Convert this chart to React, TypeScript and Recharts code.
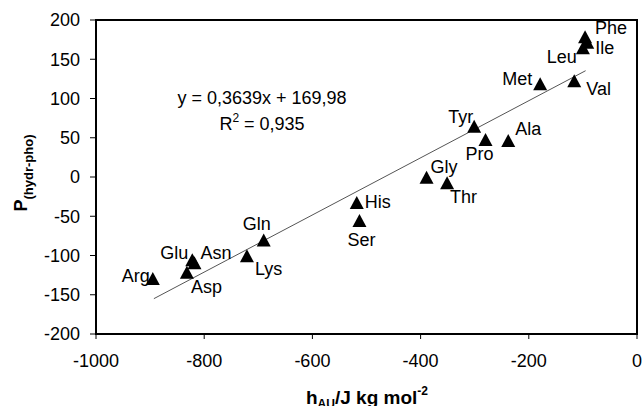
import React from "react";
import { ScatterChart, Scatter, XAxis, YAxis, ReferenceLine, ReferenceArea } from "recharts";

document.body.style.margin = "0";

const aminoAcids = ["Arg", "Asp", "Glu", "Asn", "Lys", "Gln", "His", "Ser", "Gly", "Thr", "Tyr", "Pro", "Ala", "Met", "Val", "Leu", "Ile", "Phe"];
const hAU = [-895, -832, -822, -818, -721, -690, -518, -513, -389, -351, -301, -280, -238, -179, -116, -100, -92, -96];
const pHydrPho = [-130, -122, -106, -110, -101, -81, -33, -56, -1, -8, 64, 47, 46, 118, 122, 164, 171, 178];

const xTicks = [-1000, -800, -600, -400, -200, 0];
const yTicks = [-200, -150, -100, -50, 0, 50, 100, 150, 200];

// trendline from the equation printed on the chart
const slope = 0.3639;
const intercept = 169.98;
const trendStart = -893;
const trendEnd = -95;

// where each label sits relative to its marker (px, baseline)
const labelPos: Record<string, [number, number, "start" | "middle" | "end"]> = {
  Arg: [-3, 3, "end"],
  Asp: [4, 20, "start"],
  Glu: [-4, -1, "end"],
  Asn: [6, -4, "start"],
  Lys: [8, 19, "start"],
  Gln: [-7, -11, "middle"],
  His: [8, 5, "start"],
  Ser: [2, 25, "middle"],
  Gly: [4, -5, "start"],
  Thr: [3, 20, "start"],
  Tyr: [-1, -4, "end"],
  Pro: [-6, 20, "middle"],
  Ala: [7, -6, "start"],
  Met: [-8, 1, "end"],
  Val: [12, 14, "start"],
  Leu: [-6, 15, "end"],
  Ile: [8, 11, "start"],
  Phe: [10, -3, "start"],
};

const data = aminoAcids.map((name, i) => ({ name, h: hAU[i], p: pHydrPho[i] }));
const trend = [
  { x: trendStart, y: slope * trendStart + intercept },
  { x: trendEnd, y: slope * trendEnd + intercept },
];

const font = "'Liberation Sans', Arial, sans-serif";

const Marker = (props: any) => {
  const { cx, cy, payload } = props;
  const [dx, dy, anchor] = labelPos[payload.name] || [8, 0, "start"];
  return (
    <g>
      <path d={`M${cx},${cy - 7} L${cx + 7},${cy + 6} L${cx - 7},${cy + 6} Z`} fill="#000" />
      <text x={cx + dx} y={cy + dy} textAnchor={anchor} fontSize={18} fontFamily={font} fill="#000">
        {payload.name}
      </text>
    </g>
  );
};

export default function App() {
  return (
    <div style={{ width: 642, height: 406 }}>
      <ScatterChart width={642} height={406} margin={{ top: 20, right: 5, bottom: 0, left: 0 }}>
        <XAxis
          type="number"
          dataKey="h"
          domain={[-1000, 0]}
          ticks={xTicks}
          interval={0}
          height={72}
          tickSize={5}
          tickMargin={15}
          axisLine={{ stroke: "#000", strokeWidth: 2 }}
          tickLine={{ stroke: "#000" }}
          tick={{ fill: "#000", fontSize: 18, fontFamily: font }}
        />
        <YAxis
          type="number"
          dataKey="p"
          domain={[-200, 200]}
          ticks={yTicks}
          interval={0}
          width={96}
          tickSize={6}
          tickMargin={10}
          axisLine={{ stroke: "#000", strokeWidth: 2 }}
          tickLine={{ stroke: "#000" }}
          tick={{ fill: "#000", fontSize: 18, fontFamily: font }}
        />
        <ReferenceArea x1={-1000} x2={0} y1={-200} y2={200} fill="none" stroke="#000" strokeWidth={2} ifOverflow="visible" />
        <ReferenceLine segment={trend} stroke="#555" strokeWidth={1} />
        <Scatter data={data} shape={<Marker />} isAnimationActive={false} />
        <text x={262} y={104} textAnchor="middle" fontSize={18} fontFamily={font} fill="#000">
          y = 0,3639x + 169,98
        </text>
        <text x={262} y={130} textAnchor="middle" fontSize={18} fontFamily={font} fill="#000">
          R<tspan fontSize={12} dy={-8}>2</tspan>
          <tspan dy={8}> = 0,935</tspan>
        </text>
        <text
          transform="translate(27, 173) rotate(-90)"
          x={0}
          y={0}
          textAnchor="middle"
          fontSize={18}
          fontWeight="bold"
          fontFamily={font}
          fill="#000"
        >
          P<tspan fontSize={13} dy={6}>(hydr-pho)</tspan>
        </text>
        <text x={367} y={404} textAnchor="middle" fontSize={19} fontWeight="bold" fontFamily={font} fill="#000">
          h<tspan fontSize={12} dy={4}>AU</tspan>
          <tspan dy={-4}>/J kg mol</tspan>
          <tspan fontSize={12} dy={-9}>-2</tspan>
        </text>
      </ScatterChart>
    </div>
  );
}
